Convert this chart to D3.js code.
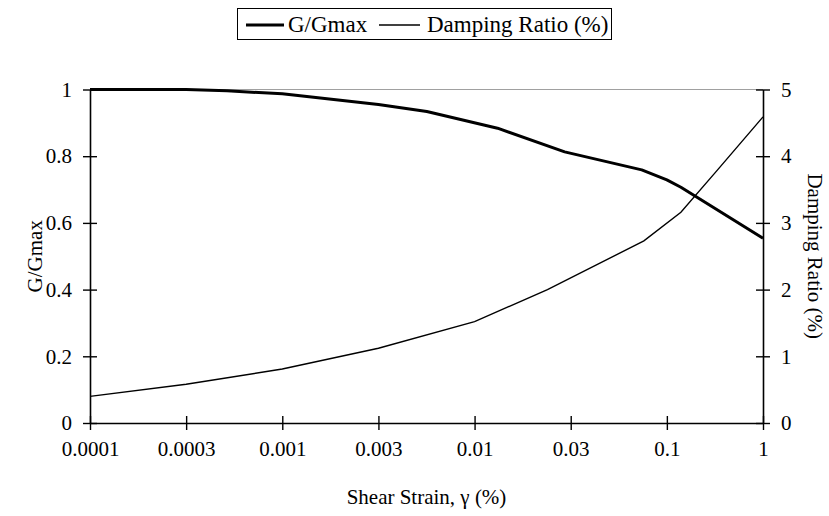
<!DOCTYPE html>
<html>
<head>
<meta charset="utf-8">
<script src="https://cdn.jsdelivr.net/npm/d3@7/dist/d3.min.js"></script>
<style>
  html, body { margin: 0; padding: 0; background: #fff; }
  svg { display: block; }
  text { font-family: "Liberation Serif", "Times New Roman", serif; fill: #000; }
</style>
</head>
<body>
<svg id="chart" width="829" height="516"></svg>
<script>
// Shear strain tick values (%) shown on the horizontal axis
const strainTicks = [0.0001, 0.0003, 0.001, 0.003, 0.01, 0.03, 0.1, 1];
const strainTickLabels = ["0.0001", "0.0003", "0.001", "0.003", "0.01", "0.03", "0.1", "1"];

// Modulus reduction curve: strain (%) and G/Gmax
const gStrain = [0.0001, 0.0003, 0.0005, 0.001, 0.003, 0.0055, 0.013, 0.028, 0.073, 0.1, 0.14, 1];
const gValues = [1.0, 1.0, 0.996, 0.987, 0.955, 0.934, 0.884, 0.813, 0.759, 0.729, 0.707, 0.554];

// Damping curve: strain (%) and damping ratio (%)
const dStrain = [0.0001, 0.0003, 0.001, 0.003, 0.01, 0.023, 0.075, 0.14, 0.33, 1];
const dValues = [0.40, 0.58, 0.81, 1.12, 1.52, 2.0, 2.73, 3.16, 3.78, 4.59];

// Axis ticks
const gTicks = [0, 0.2, 0.4, 0.6, 0.8, 1];
const dTicks = [0, 1, 2, 3, 4, 5];

const svg = d3.select("#chart");
const plotLeft = 90, plotRight = 763, plotTop = 89.5, plotBottom = 423;

// Labelled strains are spaced evenly; in-between values follow a log interpolation
const x = d3.scaleLog()
  .domain(strainTicks)
  .range(strainTicks.map((d, i) => plotLeft + i * (plotRight - plotLeft) / (strainTicks.length - 1)));
const yG = d3.scaleLinear().domain([0, 1]).range([plotBottom, plotTop]);
const yD = d3.scaleLinear().domain([0, 5]).range([plotBottom, plotTop]);

// Light top border of the plot area
svg.append("line")
  .attr("x1", plotLeft).attr("x2", plotRight).attr("y1", plotTop).attr("y2", plotTop)
  .attr("stroke", "#a0a0a0").attr("stroke-width", 1.2);

const tickFont = 21, titleFont = 21, legendFont = 23;

// Bottom axis
const xAxis = svg.append("g")
  .attr("transform", `translate(0,${plotBottom})`)
  .call(d3.axisBottom(x).tickValues(strainTicks)
    .tickFormat((d, i) => strainTickLabels[i]).tickSizeOuter(0).tickPadding(12));
// Left axis
const gAxis = svg.append("g")
  .attr("transform", `translate(${plotLeft},0)`)
  .call(d3.axisLeft(yG).tickValues(gTicks).tickFormat(d3.format("~g")).tickSizeOuter(0).tickPadding(12));
// Right axis
const dAxis = svg.append("g")
  .attr("transform", `translate(${plotRight},0)`)
  .call(d3.axisRight(yD).tickValues(dTicks).tickFormat(d3.format("d")).tickSizeOuter(0).tickPadding(12));

[xAxis, gAxis, dAxis].forEach(a => {
  a.select(".domain").attr("stroke", "#000").attr("stroke-width", 1.6);
  a.selectAll(".tick text").attr("font-size", tickFont)
    .attr("font-family", "'Liberation Serif', 'Times New Roman', serif");
  a.selectAll(".tick line").attr("stroke", "#000").attr("stroke-width", 1.4);
});
// Tick marks cross the axis line
xAxis.selectAll(".tick line").attr("y1", -7).attr("y2", 7);
gAxis.selectAll(".tick line").attr("x1", -7).attr("x2", 7);
dAxis.selectAll(".tick line").attr("x1", -7).attr("x2", 7);

// Curves
const gLine = d3.line().x((d, i) => x(gStrain[i])).y(d => yG(d));
const dLine = d3.line().x((d, i) => x(dStrain[i])).y(d => yD(d));

svg.append("path").datum(dValues)
  .attr("d", dLine).attr("fill", "none")
  .attr("stroke", "#000").attr("stroke-width", 1.4);
svg.append("path").datum(gValues)
  .attr("d", gLine).attr("fill", "none")
  .attr("stroke", "#000").attr("stroke-width", 3).attr("stroke-linejoin", "round");

// Axis titles
svg.append("text")
  .attr("x", (plotLeft + plotRight) / 2).attr("y", 504)
  .attr("text-anchor", "middle").attr("font-size", titleFont)
  .text("Shear Strain, γ (%)");
svg.append("text")
  .attr("transform", `translate(42,${(plotTop + plotBottom) / 2}) rotate(-90)`)
  .attr("text-anchor", "middle").attr("font-size", titleFont)
  .text("G/Gmax");
svg.append("text")
  .attr("transform", `translate(808,${(plotTop + plotBottom) / 2}) rotate(90)`)
  .attr("text-anchor", "middle").attr("font-size", titleFont)
  .text("Damping Ratio (%)");

// Legend
const legend = svg.append("g");
legend.append("rect")
  .attr("x", 237.5).attr("y", 8.5).attr("width", 374).attr("height", 31)
  .attr("fill", "#fff").attr("stroke", "#000").attr("stroke-width", 1);
const legendItems = [
  { label: "G/Gmax", width: 3, x0: 246, x1: 284, tx: 288 },
  { label: "Damping Ratio (%)", width: 1.4, x0: 379, x1: 420, tx: 427 }
];
legendItems.forEach(it => {
  legend.append("line")
    .attr("x1", it.x0).attr("x2", it.x1).attr("y1", 25).attr("y2", 25)
    .attr("stroke", "#000").attr("stroke-width", it.width);
  legend.append("text")
    .attr("x", it.tx).attr("y", 32).attr("font-size", legendFont)
    .text(it.label);
});
</script>
</body>
</html>
